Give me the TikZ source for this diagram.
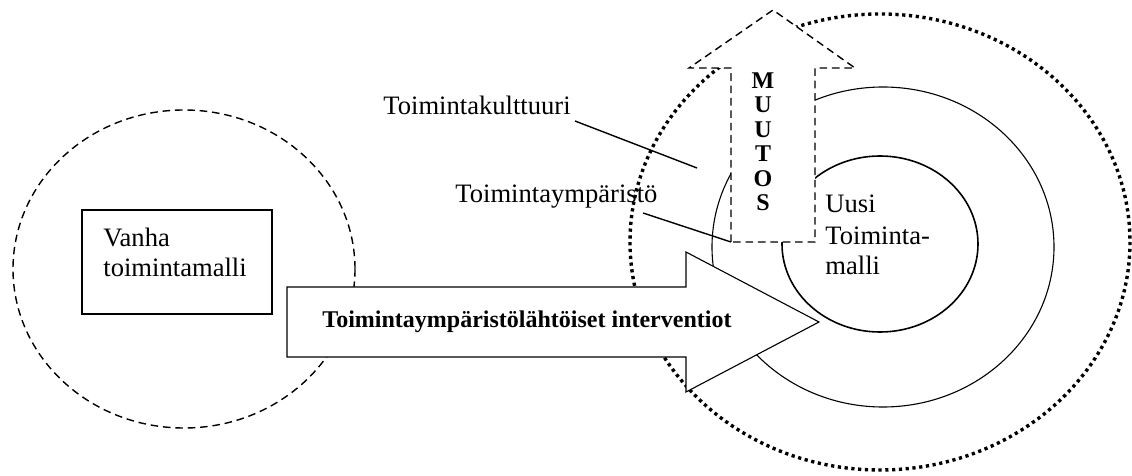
\documentclass[tikz,border=0pt]{standalone}
\usepackage{fontspec}
\setmainfont{Liberation Serif}
\begin{document}
\begin{tikzpicture}[x=0.5pt,y=-0.5pt,
  ring/.style={line width=0.55pt},
  innerring/.style={line width=0.8pt},
  dotring/.style={line width=1.7pt, dash pattern=on 1.6pt off 1.8pt},
  dashline/.style={line width=0.7pt, dash pattern=on 3.8pt off 2.4pt},
  leader/.style={line width=0.7pt},
  lbl/.style={font=\fontsize{13.3}{15}\selectfont, inner sep=0pt, anchor=base west},
  boldlbl/.style={font=\fontsize{12}{12.25}\selectfont\bfseries, inner sep=0pt}
]
\useasboundingbox (0,0) rectangle (1132,476);
% outer dotted ellipse
\draw[dotring] (880,242) ellipse [x radius=250, y radius=228];
% left dashed circle
\draw[dashline] (184,269) ellipse [x radius=171, y radius=159];
% rings
\draw[ring] (883,247) ellipse [x radius=171, y radius=160];
\draw[innerring] (880,244) ellipse [x radius=98, y radius=88];
% up arrow MUTOS
\coordinate (ubl) at (731,242);
\coordinate (ubr) at (815,242);
\draw[dashline, fill=white] (ubl) -- (731,68) -- (689,68) -- (773,10) -- (855,68) -- (815,68) -- (ubr) -- cycle;
\node[boldlbl, align=center] (mutos) at (763,142) {M\\U\\U\\T\\O\\S};
% right arrow
\draw[line width=0.55pt, fill=white] (287,287) -- (686,287) -- (686,252) -- (819,322) -- (686,392) -- (686,357) -- (287,357) -- cycle;
\node[boldlbl] (intv) at (527,322) {Toimintaympäristölähtöiset interventiot};
% old model box
\node[draw, line width=0.8pt, minimum width=95pt, minimum height=52pt, inner sep=0pt] (old) at (177,262) {};
\node[lbl] (vanha1) at (103,247) {Vanha};
\node[lbl] (vanha2) at (103,277) {toimintamalli};
% labels
\node[lbl] (kult) at (383,115) {Toimintakulttuuri};
\node[lbl] (ymp) at (455,203) {Toimintaympäristö};
\coordinate (k1) at (575,121);
\coordinate (k2) at (697,168);
\coordinate (y1) at (643,213);
\draw[leader] (k1) -- (k2);
\draw[leader] (y1) -- (ubl);
% new model
\node[lbl] (uusi1) at (825,213) {Uusi};
\node[lbl] (uusi2) at (825,245) {Toiminta-};
\node[lbl] (uusi3) at (825,275) {malli};
\end{tikzpicture}
\end{document}
